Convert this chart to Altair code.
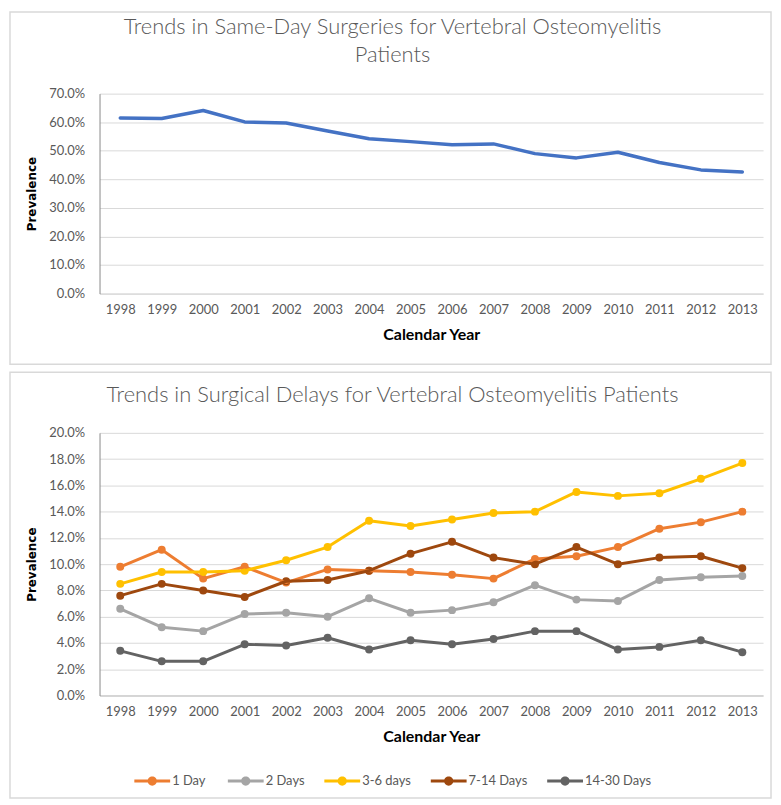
import altair as alt
import pandas as pd

years = [str(y) for y in range(1998, 2014)]

same_day = [61.5, 61.3, 64.1, 60.1, 59.7, 56.9, 54.2, 53.2, 52.1, 52.4, 49.0, 47.5, 49.5, 45.9, 43.3, 42.6]

series_names = ["1  Day", "2 Days", "3-6 days", "7-14 Days", "14-30 Days"]
series_colors = ["#ED7D31", "#A5A5A5", "#FFC000", "#9E480E", "#636363"]
delay_1_day = [9.8, 11.1, 8.9, 9.8, 8.6, 9.6, 9.5, 9.4, 9.2, 8.9, 10.4, 10.6, 11.3, 12.7, 13.2, 14.0]
delay_2_days = [6.6, 5.2, 4.9, 6.2, 6.3, 6.0, 7.4, 6.3, 6.5, 7.1, 8.4, 7.3, 7.2, 8.8, 9.0, 9.1]
delay_3_6_days = [8.5, 9.4, 9.4, 9.5, 10.3, 11.3, 13.3, 12.9, 13.4, 13.9, 14.0, 15.5, 15.2, 15.4, 16.5, 17.7]
delay_7_14_days = [7.6, 8.5, 8.0, 7.5, 8.7, 8.8, 9.5, 10.8, 11.7, 10.5, 10.0, 11.3, 10.0, 10.5, 10.6, 9.7]
delay_14_30_days = [3.4, 2.6, 2.6, 3.9, 3.8, 4.4, 3.5, 4.2, 3.9, 4.3, 4.9, 4.9, 3.5, 3.7, 4.2, 3.3]

top_ticks = [0, 10, 20, 30, 40, 50, 60, 70]
bottom_ticks = [0, 2, 4, 6, 8, 10, 12, 14, 16, 18, 20]

# ---- tables built from the arrays above ----
df_top = pd.DataFrame({"year": years, "value": same_day})
rows = []
for name, vals in zip(series_names, [delay_1_day, delay_2_days, delay_3_6_days, delay_7_14_days, delay_14_30_days]):
    for y, v in zip(years, vals):
        rows.append({"year": y, "series": name, "value": v})
df_bot = pd.DataFrame(rows)
one = pd.DataFrame({"f": [0]})

FONT = "Lato"
GREY = "#595959"
GRID = "#D9D9D9"
W = 667
H1 = 201
H2 = 264


def x_enc(domain_color):
    return alt.X("year:O", sort=years,
                 scale=alt.Scale(type="point", padding=0.5),
                 axis=alt.Axis(title="Calendar Year", labelAngle=0, labelPadding=10,
                               titlePadding=10, titleFont=FONT, titleFontSize=16,
                               titleFontWeight="bold", titleColor="#000000",
                               domain=True, domainColor=domain_color, domainWidth=1.2))


def y_enc(domain, ticks):
    return alt.Y("value:Q",
                 scale=alt.Scale(domain=domain, nice=False),
                 axis=alt.Axis(title="Prevalence", values=ticks,
                               labelExpr="format(datum.value, '.1f') + '%'",
                               labelPadding=15, titlePadding=10,
                               titleFont="DejaVu Sans", titleFontSize=12,
                               titleFontWeight="bold", titleColor="#000000"))


# ---- top panel ----
frame_top = alt.Chart(one).mark_rect(fillOpacity=0, stroke=GRID, strokeWidth=1.5).encode(
    x=alt.value(-90), x2=alt.value(W + 8), y=alt.value(-82), y2=alt.value(H1 + 71))

line_top = alt.Chart(df_top).mark_line(color="#4472C4", strokeWidth=3.5,
                                       strokeJoin="round", strokeCap="round").encode(
    x=x_enc(GRID), y=y_enc([0, 70], top_ticks))

top = alt.layer(frame_top, line_top).properties(
    width=W, height=H1,
    title=alt.TitleParams(
        text=["Trends in Same-Day Surgeries for Vertebral Osteomyelitis", "Patients"],
        font=FONT, fontSize=22, fontWeight=300, color=GREY, lineHeight=28,
        anchor="middle", dx=-39, offset=-56))

# ---- bottom panel ----
frame_bot = alt.Chart(one).mark_rect(fillOpacity=0, stroke=GRID, strokeWidth=1.5).encode(
    x=alt.value(-90), x2=alt.value(W + 8), y=alt.value(-61), y2=alt.value(H2 + 103))

SYMBOL = ("M-1,-0.085H1V0.085H-1Z "
          "M0.26,0A0.26,0.26,0,1,1,-0.26,0A0.26,0.26,0,1,1,0.26,0Z")

color_enc = alt.Color("series:N",
                      scale=alt.Scale(domain=series_names, range=series_colors),
                      legend=alt.Legend(orient="bottom", offset=-37,
                                        direction="horizontal", columns=5,
                                        title=" ", titleOrient="left", titlePadding=35,
                                        titleFontSize=13,
                                        symbolType=SYMBOL, symbolSize=1296,
                                        symbolStrokeWidth=0, symbolOpacity=1,
                                        labelFont=FONT, labelFontSize=13, labelColor=GREY,
                                        labelOffset=2, columnPadding=19, padding=0))

pts = alt.Chart(df_bot).mark_circle(size=64, opacity=1).encode(
    x=x_enc("#BFBFBF"), y=y_enc([0, 20], bottom_ticks), color=color_enc)
lines = alt.Chart(df_bot).mark_line(strokeWidth=3, strokeJoin="round").encode(
    x=x_enc("#BFBFBF"), y=y_enc([0, 20], bottom_ticks), color=color_enc)

bottom = alt.layer(frame_bot, pts, lines).properties(
    width=W, height=H2,
    title=alt.TitleParams(
        text="Trends in Surgical Delays for Vertebral Osteomyelitis Patients",
        font=FONT, fontSize=22, fontWeight=300, color=GREY,
        anchor="middle", dx=-39, offset=-36))

chart = alt.vconcat(top, bottom, spacing=4).properties(
    padding=0, background="#FFFFFF"
).configure_view(stroke="transparent").configure_axis(
    labelFont=FONT, labelFontSize=13, labelColor=GREY,
    gridColor=GRID, gridWidth=1, ticks=False)

chart.save("out.html", embed_options={"renderer": "svg", "actions": False})
